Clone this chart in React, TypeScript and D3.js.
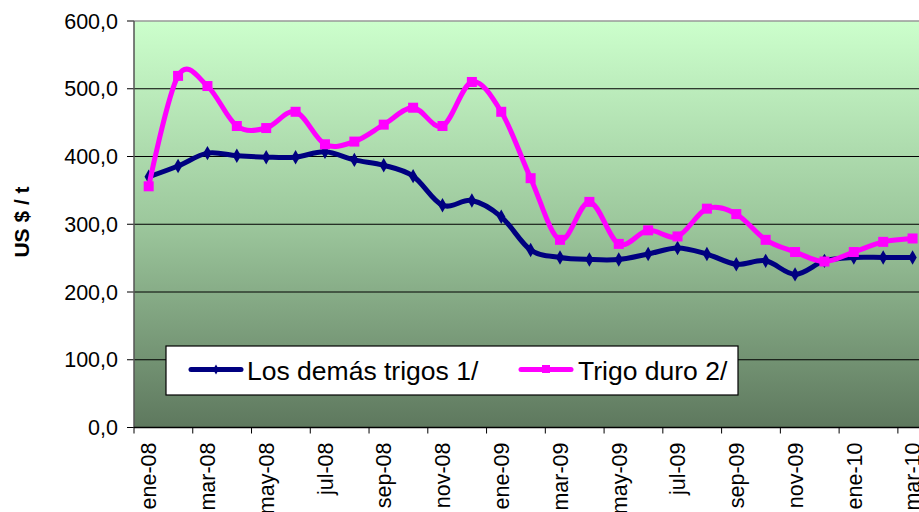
import React from "react";
import * as d3 from "d3";

const months = [
  "ene-08","feb-08","mar-08","abr-08","may-08","jun-08","jul-08","ago-08","sep-08","oct-08","nov-08","dic-08",
  "ene-09","feb-09","mar-09","abr-09","may-09","jun-09","jul-09","ago-09","sep-09","oct-09","nov-09","dic-09",
  "ene-10","feb-10","mar-10",
];
const losDemas = [370, 386, 405, 401, 399, 399, 407, 395, 387, 371, 328, 335, 311, 262, 251, 248, 248, 256, 265, 256, 241, 246, 226, 246, 251, 251, 251];
const trigoDuro = [356, 519, 504, 445, 442, 466, 418, 422, 447, 472, 445, 510, 466, 368, 277, 333, 271, 291, 282, 323, 315, 277, 259, 245, 259, 274, 279];
const yTicks = [0, 100, 200, 300, 400, 500, 600];
const seriesNames = ["Los demás trigos 1/", "Trigo duro 2/"];

const W = 919, H = 512;
const left = 134, top = 21, bottom = 427.5;
const step = 29.38;
const right = left + months.length * step;

export default function App() {
  const x = d3.scaleBand<string>().domain(months).range([left, right]).padding(0);
  const y = d3.scaleLinear().domain([0, 600]).range([bottom, top]);
  const cx = (m: string) => (x(m) as number) + x.bandwidth() / 2;
  const line = d3
    .line<number>()
    .x((_, i) => cx(months[i]))
    .y((d) => y(d))
    .curve(d3.curveCatmullRom.alpha(0));
  const font = "Arial, 'Liberation Sans', sans-serif";
  const fmt = (v: number) => v.toFixed(1).replace(".", ",");
  const tickIdx = months.map((_, i) => i).filter((i) => i % 2 === 0);
  return (
    <svg width={W} height={H} style={{ position: "absolute", left: 0, top: 0, background: "#fff" }} fontFamily={font}>
      <defs>
        <linearGradient id="bg" x1="0" y1="0" x2="0" y2="1">
          <stop offset="0" stopColor="#CCFFCC" />
          <stop offset="0.5" stopColor="#9CC79C" />
          <stop offset="1" stopColor="#5E785E" />
        </linearGradient>
        <clipPath id="clip">
          <rect x={left} y={0} width={W - left} height={H} />
        </clipPath>
      </defs>
      <rect x={left} y={top} width={right - left} height={bottom - top} fill="url(#bg)" />
      <line x1={left} x2={right} y1={top} y2={top} stroke="#999" strokeWidth={1.5} />
      {yTicks.map((t) => (
        <g key={t}>
          {t > 0 && t < 600 && <line x1={left} x2={right} y1={y(t)} y2={y(t)} stroke="#000" strokeWidth={1} />}
          <line x1={left - 7} x2={left} y1={y(t)} y2={y(t)} stroke="#000" />
          <text x={118} y={y(t)} dy="0.36em" textAnchor="end" fontSize={21.5} fill="#000">
            {fmt(t)}
          </text>
        </g>
      ))}
      <line x1={left} x2={left} y1={top} y2={bottom} stroke="#555" strokeWidth={1.5} />
      <line x1={left} x2={right} y1={bottom} y2={bottom} stroke="#000" strokeWidth={1.5} />
      {tickIdx.map((i) => (
        <line key={"t" + i} x1={x(months[i]) as number} x2={x(months[i]) as number} y1={bottom} y2={bottom + 6} stroke="#000" />
      ))}
      {tickIdx.map((i) => (
        <text
          key={"l" + i}
          transform={`translate(${cx(months[i])},${bottom + 15}) rotate(-90)`}
          dy="0.36em"
          textAnchor="end"
          fontSize={21.5}
          fill="#000"
        >
          {months[i]}
        </text>
      ))}
      <text transform={`translate(21.5,222) rotate(-90)`} dy="0.36em" textAnchor="middle" fontSize={21} fontWeight="bold" fill="#000">
        US $ / t
      </text>
      <g clipPath="url(#clip)">
        <path d={line(losDemas) || ""} fill="none" stroke="#000080" strokeWidth={5} strokeLinejoin="round" />
        {losDemas.map((v, i) => (
          <path
            key={"d" + i}
            d={d3.symbol().type(d3.symbolDiamond).size(60)() || ""}
            transform={`translate(${cx(months[i])},${y(v)})`}
            fill="#000080"
          />
        ))}
        <path d={line(trigoDuro) || ""} fill="none" stroke="#FF00FF" strokeWidth={5} strokeLinejoin="round" />
        {trigoDuro.map((v, i) => (
          <rect key={"s" + i} x={cx(months[i]) - 5} y={y(v) - 5} width={10} height={10} fill="#FF00FF" />
        ))}
      </g>
      <g>
        <rect x={166} y={346} width={572} height={49} fill="#fff" stroke="#000" strokeWidth={1.2} />
        <line x1={191} x2={241} y1={369.5} y2={369.5} stroke="#000080" strokeWidth={5} strokeLinecap="round" />
        <path d={d3.symbol().type(d3.symbolDiamond).size(30)() || ""} transform="translate(216,369.5)" fill="#000080" />
        <text x={247} y={370} dy="0.36em" fontSize={26.5} fill="#000">
          {seriesNames[0]}
        </text>
        <line x1={521} x2={571} y1={369.5} y2={369.5} stroke="#FF00FF" strokeWidth={5} strokeLinecap="round" />
        <rect x={542} y={365} width={8} height={8} fill="#FF00FF" />
        <text x={578} y={370} dy="0.36em" fontSize={26.5} fill="#000">
          {seriesNames[1]}
        </text>
      </g>
    </svg>
  );
}
